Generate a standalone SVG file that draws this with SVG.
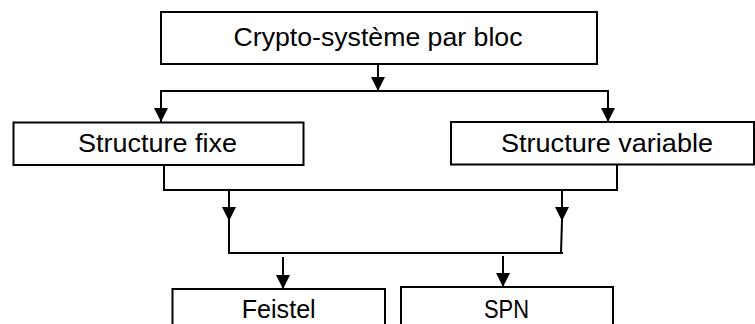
<svg xmlns="http://www.w3.org/2000/svg" width="755" height="324" viewBox="0 0 755 324">
  <style>
    .box { fill: #ffffff; stroke: #000000; stroke-width: 2; }
    .label { font-family: "Liberation Sans", Arial, sans-serif; font-size: 26px; fill: #000000; text-anchor: middle; }
    .wire { fill: none; stroke: #000000; stroke-width: 2; }
    .arrow { fill: none; stroke: #000000; stroke-width: 2; marker-end: url(#head); }
  </style>
  <defs>
    <marker id="head" viewBox="0 0 14 14" refX="14" refY="7" markerWidth="14" markerHeight="14" markerUnits="userSpaceOnUse" orient="auto">
      <path d="M0,0 L14,7 L0,14 Z" fill="#000000"/>
    </marker>
  </defs>
  <rect width="755" height="324" fill="#ffffff"/>

  <g id="connectors">
    <!-- top split -->
    <line class="arrow" x1="378" y1="64" x2="378" y2="91"/>
    <line class="wire" x1="160" y1="91" x2="609" y2="91"/>
    <line class="arrow" x1="161" y1="91" x2="161" y2="122"/>
    <line class="arrow" x1="608" y1="91" x2="608" y2="122"/>
    <!-- merge of both structures -->
    <polyline class="wire" points="164,165 164,190 617,190 617,165"/>
    <line class="arrow" x1="229" y1="190" x2="229" y2="221"/>
    <line class="wire" x1="229" y1="220" x2="229" y2="253"/>
    <line class="arrow" x1="562" y1="190" x2="562" y2="221"/>
    <line class="wire" x1="562" y1="220" x2="561" y2="253"/>
    <line class="wire" x1="228" y1="253" x2="563" y2="253"/>
    <!-- bottom split -->
    <line class="arrow" x1="283" y1="257" x2="283" y2="289"/>
    <line class="arrow" x1="503" y1="256" x2="503" y2="287"/>
  </g>

  <g id="crypto">
    <rect class="box" x="161" y="12" width="436" height="52"/>
    <text class="label" x="378" y="46" textLength="289" lengthAdjust="spacingAndGlyphs">Crypto-système par bloc</text>
  </g>
  <g id="fixe">
    <rect class="box" x="13.5" y="122.5" width="290" height="42.5"/>
    <text class="label" x="157.5" y="151.5" textLength="159" lengthAdjust="spacingAndGlyphs">Structure fixe</text>
  </g>
  <g id="variable">
    <rect class="box" x="451" y="122" width="303" height="42.5"/>
    <text class="label" x="607" y="151.5" textLength="212" lengthAdjust="spacingAndGlyphs">Structure variable</text>
  </g>
  <g id="feistel">
    <rect class="box" x="172.5" y="289" width="212.5" height="45"/>
    <text class="label" x="278.7" y="318" textLength="74" lengthAdjust="spacingAndGlyphs">Feistel</text>
  </g>
  <g id="spn">
    <rect class="box" x="401" y="287" width="212" height="47"/>
    <text class="label" x="506.5" y="318" textLength="45" lengthAdjust="spacingAndGlyphs">SPN</text>
  </g>
</svg>
